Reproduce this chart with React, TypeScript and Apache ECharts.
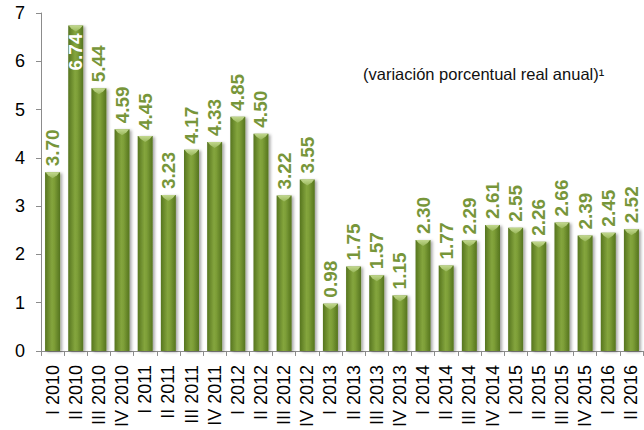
import React, { useEffect, useRef } from "react";
import * as echarts from "echarts";

const categories = [
  "I 2010", "II 2010", "III 2010", "IV 2010",
  "I 2011", "II 2011", "III 2011", "IV 2011",
  "I 2012", "II 2012", "III 2012", "IV 2012",
  "I 2013", "II 2013", "III 2013", "IV 2013",
  "I 2014", "II 2014", "III 2014", "IV 2014",
  "I 2015", "II 2015", "III 2015", "IV 2015",
  "I 2016", "II 2016",
];
const values = [
  3.70, 6.74, 5.44, 4.59,
  4.45, 3.23, 4.17, 4.33,
  4.85, 4.50, 3.22, 3.55,
  0.98, 1.75, 1.57, 1.15,
  2.30, 1.77, 2.29, 2.61,
  2.55, 2.26, 2.66, 2.39,
  2.45, 2.52,
];
const insideLabelIndex = [1];
const yTicks = [0, 1, 2, 3, 4, 5, 6, 7];
const subtitle = "(variación porcentual real anual)¹";

const FONT = "'Liberation Sans', Arial, sans-serif";
const LABEL_GREEN = "#77963a";

export default function App() {
  const ref = useRef<HTMLDivElement>(null);
  useEffect(() => {
    if (!ref.current) return;
    const chart = echarts.init(ref.current, undefined, { renderer: "svg" });
    const barWidth = 15;
    const barColor = new echarts.graphic.LinearGradient(0, 0, 1, 0, [
      { offset: 0, color: "#56751f" },
      { offset: 0.45, color: "#84a53d" },
      { offset: 0.6, color: "#7e9f38" },
      { offset: 1, color: "#55741e" },
    ]);
    chart.setOption({
      animation: false,
      grid: { left: 41, right: 1, top: 13, bottom: 76, containLabel: false },
      graphic: [
        {
          type: "text",
          left: 363,
          top: 65,
          style: { text: subtitle, font: `16.5px ${FONT}`, fill: "#111" },
        },
      ],
      xAxis: {
        type: "category",
        data: categories,
        boundaryGap: true,
        axisLine: { show: true, lineStyle: { color: "#8c8c8c", width: 1 } },
        axisTick: { show: true, interval: 0, length: 5, lineStyle: { color: "#8c8c8c" } },
        axisLabel: {
          interval: 0,
          rotate: 90,
          margin: 14,
          fontFamily: FONT,
          fontSize: 18,
          color: "#000",
        },
      },
      yAxis: {
        type: "value",
        min: yTicks[0],
        max: yTicks[yTicks.length - 1],
        interval: 1,
        axisLine: { show: true, lineStyle: { color: "#8c8c8c", width: 1 } },
        axisTick: { show: true, length: 5, lineStyle: { color: "#8c8c8c" } },
        splitLine: { show: false },
        axisLabel: { margin: 16, fontFamily: FONT, fontSize: 18, color: "#000" },
      },
      series: [
        {
          type: "bar",
          barWidth,
          data: values.map((v, i) =>
            insideLabelIndex.includes(i)
              ? {
                  value: v,
                  label: {
                    position: "insideTop",
                    align: "right",
                    verticalAlign: "middle",
                    distance: 8,
                    color: "#fff",
                  },
                }
              : v
          ),
          itemStyle: {
            color: barColor,
            shadowColor: "rgba(0,0,0,0.35)",
            shadowBlur: 3,
            shadowOffsetX: 2,
            shadowOffsetY: 1,
          },
          label: {
            show: true,
            position: "top",
            rotate: 90,
            align: "left",
            verticalAlign: "middle",
            distance: 6,
            fontFamily: FONT,
            fontWeight: "bold",
            fontSize: 19,
            color: LABEL_GREEN,
            formatter: (p: any) => Number(p.value).toFixed(2),
          },
          z: 2,
        },
        {
          type: "custom",
          z: 3,
          silent: true,
          data: values.map((v, i) => [i, v]),
          renderItem: (params: any, api: any) => {
            const top = api.coord([api.value(0), api.value(1)]);
            const half = barWidth / 2;
            const x0 = top[0] - half;
            const x1 = top[0] + half;
            const y = top[1];
            return {
              type: "polygon",
              shape: {
                points: [
                  [x0 + 0.5, y],
                  [x1 - 0.5, y],
                  [x1 - 3, y + 3],
                  [top[0], y + 6],
                  [x0 + 3, y + 3],
                ],
              },
              style: {
                fill: new echarts.graphic.LinearGradient(0, 0, 0, 1, [
                  { offset: 0, color: "#c2d88e" },
                  { offset: 1, color: "#98b65a" },
                ]),
              },
            };
          },
        },
      ],
    });
    return () => chart.dispose();
  }, []);
  return <div ref={ref} style={{ width: 644, height: 430, position: "absolute", left: 0, top: 0 }} />;
}
